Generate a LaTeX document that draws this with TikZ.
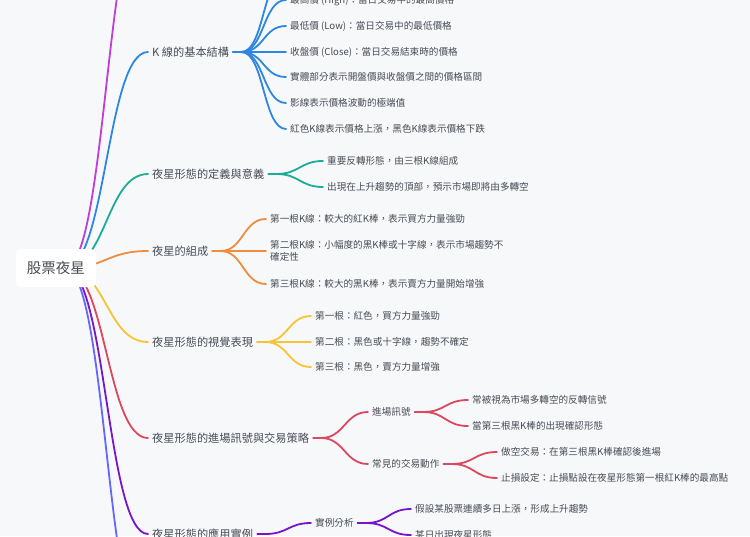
\documentclass[tikz,border=0pt]{standalone}
\usepackage{xcolor}
\usepackage{fontspec}
\setmainfont{Noto Sans CJK TC}
\usepackage{tikz}

\definecolor{paper}{RGB}{247,248,250}
\definecolor{ink}{RGB}{72,76,86}
\definecolor{cPurple}{RGB}{190,62,215}
\definecolor{cBlue}{RGB}{45,135,225}
\definecolor{cTeal}{RGB}{28,172,150}
\definecolor{cOrange}{RGB}{240,140,62}
\definecolor{cYellow}{RGB}{246,196,52}
\definecolor{cRed}{RGB}{220,72,96}
\definecolor{cViolet}{RGB}{118,22,200}
\definecolor{cIndigo}{RGB}{102,102,250}

\begin{document}
\begin{tikzpicture}[x=1pt,y=-1pt,
        topic/.style={anchor=west, inner xsep=4pt, inner ysep=0pt, text=ink,
            font=\fontsize{11.2}{14}\selectfont, text height=9.9pt, text depth=1.3pt},
        leaf/.style={anchor=west, inner xsep=4pt, inner ysep=0pt, text=ink,
            font=\fontsize{9.6}{12}\selectfont, text height=8.4pt, text depth=1.2pt},
        link/.style={line width=1.8pt, line cap=round}]
            \useasboundingbox (0,0) rectangle (750,536);
            \fill[paper] (0,0) rectangle (750,536);
            \clip (0,0) rectangle (750,536);

            % Main branches
            \coordinate (hub) at (65,268);
            \coordinate (upper) at (148,-100);
            \coordinate (lower) at (148,636);
            \node[topic] (kline) at (148,52) {K 線的基本結構};
            \node[topic] (define) at (148,174) {夜星形態的定義與意義};
            \node[topic] (parts) at (148,251) {夜星的組成};
            \node[topic] (visual) at (148,342) {夜星形態的視覺表現};
            \node[topic] (signal) at (148,438) {夜星形態的進場訊號與交易策略};
            \node[topic] (example) at (148,534) {夜星形態的應用實例};

            \draw[link,cPurple] (hub) .. controls +(41.5,0) and +(-41.5,0) .. (upper);
            \draw[link,cIndigo] (hub) .. controls +(41.5,0) and +(-41.5,0) .. (lower);
            \foreach \n/\c in {kline/cBlue, define/cTeal, parts/cOrange, visual/cYellow, signal/cRed, example/cViolet}
                \draw[link,\c] (hub) .. controls +(41.5,0) and +(-41.5,0) .. (\n.west);

            % K line structure
            \coordinate (kl-up) at (286,-26);
            \draw[link,cBlue] (kline.east) -- ++(8,0) .. controls +(23,0) and +(-23,0) .. (kl-up);
            \foreach \y/\t in {0/{最高價 (High)：當日交易中的最高價格}, 26/{最低價 (Low)：當日交易中的最低價格},
                    52/{收盤價 (Close)：當日交易結束時的價格}, 77/{實體部分表示開盤價與收盤價之間的價格區間},
                    103/{影線表示價格波動的極端值}, 129/{紅色K線表示價格上漲，黑色K線表示價格下跌}} {
                \node[leaf] (kl\y) at (286,\y) {\t};
                \draw[link,cBlue] (kline.east) -- ++(8,0) .. controls +(23,0) and +(-23,0) .. (kl\y.west);
            }

            % Definition
            \foreach \y/\t in {161/{重要反轉形態，由三根K線組成}, 187/{出現在上升趨勢的頂部，預示市場即將由多轉空}} {
                \node[leaf] (df\y) at (323,\y) {\t};
                \draw[link,cTeal] (define.east) -- ++(8,0) .. controls +(23,0) and +(-23,0) .. (df\y.west);
            }

            % Three candles
            \node[leaf] (pt1) at (266,219) {第一根K線：較大的紅K棒，表示買方力量強勁};
            \node[leaf, text height=, text depth=, align=left, inner ysep=0pt] (pt2) at (266,251)
                {第二根K線：小幅度的黑K棒或十字線，表示市場趨勢不\\確定性};
            \node[leaf] (pt3) at (266,284) {第三根K線：較大的黑K棒，表示賣方力量開始增強};
            \foreach \i in {1,2,3}
                \draw[link,cOrange] (parts.east) -- ++(8,0) .. controls +(23,0) and +(-23,0) .. (pt\i.west);

            % Visual look
            \foreach \y/\t in {316/{第一根：紅色，買方力量強勁}, 342/{第二根：黑色或十字線，趨勢不確定}, 367/{第三根：黑色，賣方力量增強}} {
                \node[leaf] (vs\y) at (311,\y) {\t};
                \draw[link,cYellow] (visual.east) -- ++(8,0) .. controls +(23,0) and +(-23,0) .. (vs\y.west);
            }

            % Entry signals and trading
            \node[leaf] (entry) at (368,412) {進場訊號};
            \node[leaf] (action) at (368,464) {常見的交易動作};
            \foreach \n in {entry, action}
                \draw[link,cRed] (signal.east) -- ++(8,0) .. controls +(23,0) and +(-23,0) .. (\n.west);
            \foreach \y/\t in {400/{常被視為市場多轉空的反轉信號}, 426/{當第三根黑K棒的出現確認形態}} {
                \node[leaf] (en\y) at (468,\y) {\t};
                \draw[link,cRed] (entry.east) -- ++(8,0) .. controls +(23,0) and +(-23,0) .. (en\y.west);
            }
            \foreach \y/\t in {452/{做空交易：在第三根黑K棒確認後進場}, 478/{止損設定：止損點設在夜星形態第一根紅K棒的最高點}} {
                \node[leaf] (ac\y) at (497,\y) {\t};
                \draw[link,cRed] (action.east) -- ++(8,0) .. controls +(23,0) and +(-23,0) .. (ac\y.west);
            }

            % Example
            \node[leaf] (case) at (311,523) {實例分析};
            \draw[link,cViolet] (example.east) -- ++(8,0) .. controls +(23,0) and +(-23,0) .. (case.west);
            \foreach \y/\t in {509/{假設某股票連續多日上漲，形成上升趨勢}, 535/{某日出現夜星形態}} {
                \node[leaf] (cs\y) at (411,\y) {\t};
                \draw[link,cViolet] (case.east) -- ++(8,0) .. controls +(23,0) and +(-23,0) .. (cs\y.west);
            }

            % Root
            \node[fill=white, rounded corners=5pt, minimum width=80pt, minimum height=38pt,
                text=ink, font=\fontsize{14.5}{17}\selectfont] (root) at (56,268) {股票夜星};
         \end{tikzpicture}
\end{document}
